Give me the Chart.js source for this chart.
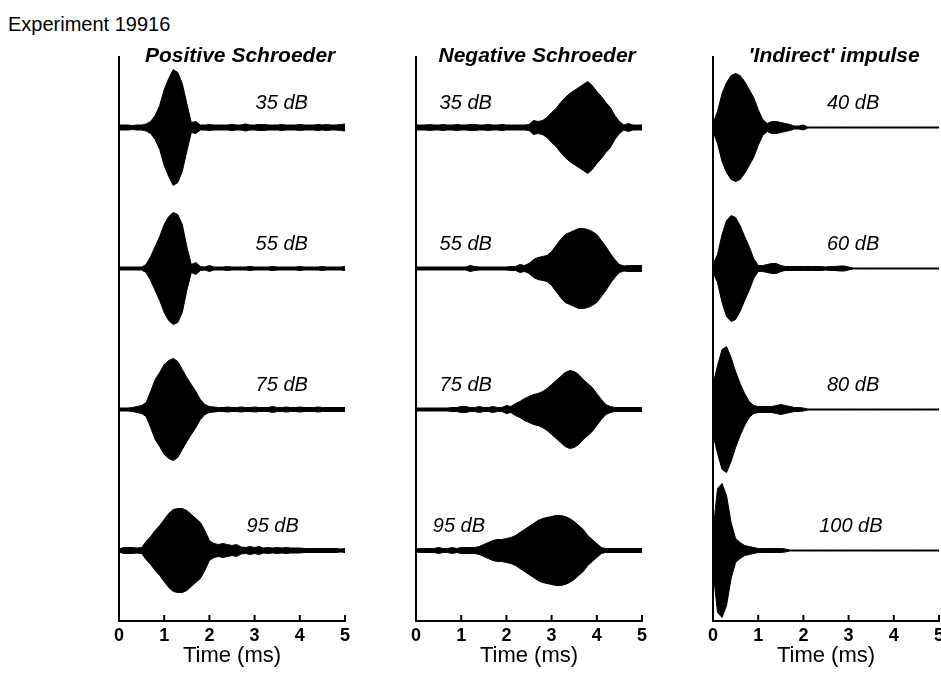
<!DOCTYPE html>
<html>
<head>
<meta charset="utf-8">
<script src="https://cdn.jsdelivr.net/npm/chart.js@4.4.1/dist/chart.umd.min.js"></script>
<style>
  html, body { margin: 0; padding: 0; background: #fff; overflow: hidden; width: 941px; height: 673px; }
  #exp { position: absolute; left: 8px; top: 13px; font: 20px "Liberation Sans", Arial, sans-serif; color: #000; }
  .panel { position: absolute; top: 0; }
</style>
</head>
<body>
<div id="exp">Experiment 19916</div>
<div class="panel" style="left:99px"><canvas id="panel0" width="266" height="673"></canvas></div>
<div class="panel" style="left:396px"><canvas id="panel1" width="266" height="673"></canvas></div>
<div class="panel" style="left:693px"><canvas id="panel2" width="266" height="673"></canvas></div>
<script>
// time axis (ms), shared by every trace
const times = [0.0,0.1,0.2,0.3,0.4,0.5,0.6,0.7,0.8,0.9,
               1.0,1.1,1.2,1.3,1.4,1.5,1.6,1.7,1.8,1.9,
               2.0,2.1,2.2,2.3,2.4,2.5,2.6,2.7,2.8,2.9,
               3.0,3.1,3.2,3.3,3.4,3.5,3.6,3.7,3.8,3.9,
               4.0,4.1,4.2,4.3,4.4,4.5,4.6,4.7,4.8,4.9,5.0];
const xTicks = [0, 1, 2, 3, 4, 5];

const panelTitles = ['Positive Schroeder', 'Negative Schroeder', "'Indirect' impulse"];
const levelsPos = [35, 55, 75, 95];
const levelsNeg = [35, 55, 75, 95];
const levelsImp = [40, 60, 80, 100];

// envelope amplitude (arbitrary units)
const pos35 = [2.5,2.5,2.5,2,2.5,2.5,3.5,6,12,22, 38,49,58,55,44,24,5,6,2.5,2.5, 3,2.5,2.5,2.5,2.5,3,2.5,2.5,3.5,2.5, 2.5,3,3,2.5,2.5,2.5,3,2.5,2.5,2.5, 3,2.5,2.5,2.5,3,2.5,3,2.5,2.5,3, 3.5];
const pos55 = [1.5,1.5,1.5,1.5,1.5,1.5,4,12,22,32, 44,52,56,54,44,22,4,6,2,1.5, 3,1.5,1.5,1.5,2,1.5,1.5,1.5,1.5,2, 1.5,1.5,1.5,1.5,2,1.5,1.5,1.5,1.5,1.5, 2,1.5,1.5,1.5,1.5,2,1.5,1.5,1.5,1.5, 2];
const pos75 = [1.5,1.5,1.5,2,3,4,7,18,30,37, 45,49,51,48,40,32,25,18,10,5, 3,2.5,2,2,2.5,2,2,2.5,2,2, 2.5,2,2,2,3,2,2,2.5,2,2, 2.5,2,2,2,2.5,2,2,2,2,2, 2];
const pos95 = [1.5,3,3,3,2.5,3,9,14,20,25, 31,37,41,42,42,40,36,32,28,20, 10,7,6,7,6,5,6,3.5,3,4, 3,4,2.5,3,2.5,3,2.5,3,2.5,2.5, 2.5,2,2,2,2,2,2,2,2,1.5, 2];

const neg35 = [2.5,2.5,2.5,3,2.5,2.5,3,2.5,2.5,3, 2.5,2.5,3,3,2.5,2.5,3,2.5,2.5,3, 2.5,2.5,2.5,2.5,2.5,3,7,6,7,10, 15,19,25,30,34,37,40,43,46,42, 36,31,25,20,12,6,2.5,4,2.5,2.5, 2.5];
const neg55 = [1.5,1.5,1.5,1.5,1.5,1.5,1.5,1.5,1.5,1.5, 1.5,1.5,3,2,1.5,1.5,1.5,1.5,1.5,1.5, 1.5,2,2,4,3,5,9,11,12,13, 17,23,29,34,36,38,40,40,39,37, 34,28,22,15,9,4,2.5,3,3,3, 3];
const neg75 = [1.5,1.5,1.5,1.5,1.5,1.5,1.5,1.5,2,2, 3,3,2,2,3,2,2,3,2,2, 4,3,6,8,11,13,15,16,18,21, 25,29,33,37,39,38,35,30,26,22, 16,10,5,3,2,2,2,2,2,2, 2];
const neg95 = [1.5,2,2,2,2,3,2,2,3,2, 3,3,3,3,4,6,8,10,11,11, 12,13,15,18,21,24,27,30,32,33, 34,35,35,34,32,29,25,21,15,11, 7,3,2,2,2,2,2,2,2,2, 2];

const imp40 = [4,16,34,45,52,54,52,46,38,30, 18,8,4,6,6,5,4,3,1.5,1.5, 2.5,0.5,0.5,0.5,0.5,0.5,0.5,0.5,0.5,0.5, 0.5,0.5,0.5,0.5,0.5,0.5,0.5,0.5,0.5,0.5, 0.5,0.5,0.5,0.5,0.5,0.5,0.5,0.5,0.5,0.5, 0.5];
const imp60 = [4,14,34,48,53,51,43,32,22,10, 3,3,4,5,5,3,2,2,2,2, 2,2,2,2,2,1.5,2,2,2.5,2.5, 1.5,0.5,0.5,0.5,0.5,0.5,0.5,0.5,0.5,0.5, 0.5,0.5,0.5,0.5,0.5,0.5,0.5,0.5,0.5,0.5, 0.5];
const imp80 = [25,44,60,63,52,38,26,16,8,4, 3,3,3,3,4,5,4,3,2,2, 1.5,0.5,0.5,0.5,0.5,0.5,0.5,0.5,0.5,0.5, 0.5,0.5,0.5,0.5,0.5,0.5,0.5,0.5,0.5,0.5, 0.5,0.5,0.5,0.5,0.5,0.5,0.5,0.5,0.5,0.5, 0.5];
const imp100 = [20,62,67,55,28,12,8,5,4,3, 2,2,2,2,2,2,1.5,0.5,0.5,0.5, 0.5,0.5,0.5,0.5,0.5,0.5,0.5,0.5,0.5,0.5, 0.5,0.5,0.5,0.5,0.5,0.5,0.5,0.5,0.5,0.5, 0.5,0.5,0.5,0.5,0.5,0.5,0.5,0.5,0.5,0.5, 0.5];

// where the level label sits along the time axis (ms)
const labelTimesPos = [3.6, 3.6, 3.6, 3.4];
const labelTimesNeg = [1.1, 1.1, 1.1, 0.95];
const labelTimesImp = [3.1, 3.1, 3.1, 3.05];

const FONT = '"Liberation Sans", Arial, sans-serif';
const ROW_SPACING = 141;          // amplitude units between stacked traces
const rowOffsets = [3, 2, 1, 0];  // top trace first

const panels = [
  { id: 'panel0', title: panelTitles[0], levels: levelsPos, labelTimes: labelTimesPos, traces: [pos35, pos55, pos75, pos95] },
  { id: 'panel1', title: panelTitles[1], levels: levelsNeg, labelTimes: labelTimesNeg, traces: [neg35, neg55, neg75, neg95] },
  { id: 'panel2', title: panelTitles[2], levels: levelsImp, labelTimes: labelTimesImp, traces: [imp40, imp60, imp80, imp100] }
];

// ticks pointing into the plot, panel title and level labels
const overlay = {
  id: 'overlay',
  afterDraw(chart, args, opts) {
    const { ctx, scales: { x, y } } = chart;
    ctx.save();
    ctx.strokeStyle = '#000';
    ctx.lineWidth = 2;
    xTicks.forEach(v => {
      const px = x.getPixelForValue(v);
      ctx.beginPath();
      ctx.moveTo(px, y.bottom);
      ctx.lineTo(px, y.bottom - 6);
      ctx.stroke();
    });
    ctx.fillStyle = '#000';
    ctx.textAlign = 'center';
    ctx.textBaseline = 'alphabetic';
    ctx.font = 'italic bold 21px ' + FONT;
    ctx.fillText(opts.title, x.getPixelForValue(2.68), y.top + 5);
    ctx.font = 'italic 20px ' + FONT;
    ctx.textBaseline = 'middle';
    opts.levels.forEach((lv, i) => {
      ctx.fillText(lv + ' dB', x.getPixelForValue(opts.labelTimes[i]), y.getPixelForValue(rowOffsets[i] + 0.17));
    });
    ctx.restore();
  }
};

panels.forEach(p => {
  const datasets = [];
  p.traces.forEach((amp, i) => {
    const off = rowOffsets[i];
    datasets.push({
      data: times.map((t, k) => ({ x: t, y: off - amp[k] / ROW_SPACING })),
      borderColor: '#000', borderWidth: 1, pointRadius: 0, tension: 0, fill: false
    });
    datasets.push({
      data: times.map((t, k) => ({ x: t, y: off + amp[k] / ROW_SPACING })),
      borderColor: '#000', borderWidth: 1, pointRadius: 0, tension: 0,
      backgroundColor: '#000', fill: '-1'
    });
  });

  new Chart(document.getElementById(p.id), {
    type: 'line',
    data: { datasets },
    plugins: [overlay],
    options: {
      responsive: false,
      animation: false,
      layout: { padding: { top: 57, left: 20, right: 20, bottom: 0 } },
      plugins: {
        legend: { display: false },
        tooltip: { enabled: false },
        overlay: { title: p.title, levels: p.levels, labelTimes: p.labelTimes }
      },
      scales: {
        x: {
          type: 'linear', min: 0, max: 5,
          afterBuildTicks: s => { s.ticks = xTicks.map(v => ({ value: v })); },
          ticks: { color: '#000', font: { family: FONT, size: 18, weight: 'bold' }, padding: 4, maxRotation: 0, autoSkip: false },
          grid: { display: false, drawTicks: false },
          border: { display: true, color: '#000', width: 2 },
          title: { display: true, text: 'Time (ms)', color: '#000', font: { family: FONT, size: 22 }, padding: { top: 0, bottom: 4 } },
          afterFit: s => { s.height = 52; }
        },
        y: {
          type: 'linear', min: -0.5, max: 3.5,
          ticks: { display: false },
          grid: { display: false, drawTicks: false },
          border: { display: true, color: '#000', width: 2 },
          afterFit: s => { s.width = 0; }
        }
      }
    }
  });
});
</script>
</body>
</html>
